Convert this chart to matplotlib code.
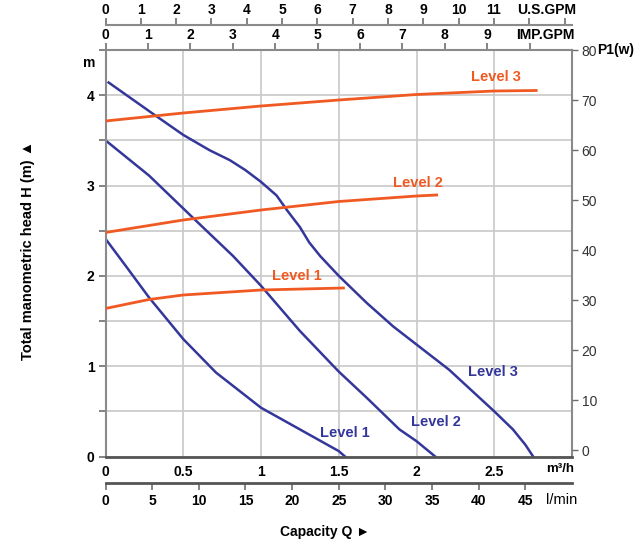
import numpy as np
import matplotlib.pyplot as plt
from matplotlib.ticker import MultipleLocator

plt.rcParams['font.family'] = ['Liberation Sans', 'DejaVu Sans']

BLUE = '#34379a'
ORANGE = '#f05a22'
GRID = '#c8c8c8'
SPINE = '#6e6e6e'

# pump curves: capacity (m3/h) -> head (m)
q_lvl1 = [0.0, 0.13, 0.28, 0.50, 0.71, 1.00, 1.25, 1.50, 1.54]
h_lvl1 = [2.41, 2.11, 1.76, 1.30, 0.93, 0.54, 0.30, 0.06, 0.0]
q_lvl2 = [0.0, 0.28, 0.57, 0.82, 1.00, 1.25, 1.50, 1.68, 1.89, 2.00, 2.12]
h_lvl2 = [3.50, 3.11, 2.63, 2.22, 1.89, 1.39, 0.94, 0.65, 0.30, 0.17, 0.0]
q_lvl3 = [0.02, 0.30, 0.50, 0.67, 0.80, 0.90, 1.00, 1.10, 1.17, 1.25, 1.31, 1.38,
          1.50, 1.68, 1.85, 2.00, 2.21, 2.50, 2.62, 2.70, 2.75]
h_lvl3 = [4.14, 3.80, 3.56, 3.39, 3.28, 3.17, 3.04, 2.89, 2.72, 2.54, 2.37, 2.22,
          2.00, 1.70, 1.44, 1.24, 0.96, 0.50, 0.30, 0.13, 0.0]

# power curves: capacity (m3/h) -> P1 (W)
qp_lvl1 = [0.0, 0.28, 0.50, 1.00, 1.53]
p_lvl1 = [28.3, 30.1, 31.0, 32.0, 32.4]
qp_lvl2 = [0.0, 0.50, 1.00, 1.50, 2.00, 2.13]
p_lvl2 = [43.5, 46.0, 48.0, 49.7, 50.8, 51.0]
qp_lvl3 = [0.0, 0.50, 1.00, 1.50, 2.00, 2.50, 2.77]
p_lvl3 = [65.8, 67.4, 68.8, 70.0, 71.1, 71.8, 71.9]

m3h_ticks = [0, 0.5, 1, 1.5, 2, 2.5]
m3h_labels = ['0', '0.5', '1', '1.5', '2', '2.5']
lmin_ticks = list(range(0, 50, 5))
usgpm_ticks = list(range(0, 14))
impgpm_ticks = list(range(0, 12))
watt_ticks = list(range(0, 90, 10))

W, H = 642, 550
fig = plt.figure(figsize=(W / 100, H / 100), dpi=100)
L, R, T, B = 105.5, 572, 50, 456.5
ax = fig.add_axes([L / W, 1 - B / H, (R - L) / W, (B - T) / H])

ax.set_xlim(0, 3)
ax.set_ylim(0, 4.5)
ax.set_xticks(m3h_ticks)
ax.set_xticklabels(m3h_labels, fontsize=10, fontweight='bold')
ax.tick_params(axis='x', length=0, pad=6)
ax.yaxis.set_major_locator(MultipleLocator(1))
ax.yaxis.set_minor_locator(MultipleLocator(0.5))
ax.tick_params(axis='y', which='both', length=5, width=1.2, color=SPINE, labelsize=10, pad=3)
for lab in ax.get_yticklabels():
    lab.set_fontweight('bold')
ax.grid(True, which='both', color=GRID, lw=1.2)
ax.set_axisbelow(True)
for s in ['left', 'right', 'top']:
    ax.spines[s].set_color('#8a8a8a')
    ax.spines[s].set_linewidth(1.5)
ax.spines['bottom'].set_color('#555555')
ax.spines['bottom'].set_linewidth(2)

ax.plot(q_lvl1, h_lvl1, color=BLUE, lw=1.8, solid_joinstyle='round')
ax.plot(q_lvl2, h_lvl2, color=BLUE, lw=1.8, solid_joinstyle='round')
ax.plot(q_lvl3, h_lvl3, color=BLUE, lw=1.8, solid_joinstyle='round')

ax2 = ax.twinx()
ax2.set_ylim(-1.3, 80)
ax2.set_yticks(watt_ticks)
ax2.tick_params(axis='y', length=4, width=1, color=SPINE, labelsize=10, labelcolor='#333333', pad=3)
for s in ax2.spines.values():
    s.set_visible(False)
ax2.plot(qp_lvl1, p_lvl1, color=ORANGE, lw=2, solid_joinstyle='round')
ax2.plot(qp_lvl2, p_lvl2, color=ORANGE, lw=2, solid_joinstyle='round')
ax2.plot(qp_lvl3, p_lvl3, color=ORANGE, lw=2, solid_joinstyle='round')

# IMP.GPM axis on top of plot
imp = ax.secondary_xaxis('top', functions=(lambda q: q / 0.27277, lambda g: g * 0.27277))
imp.set_xticks(impgpm_ticks)
imp.set_xticklabels([str(i) for i in range(10)] + ['', ''], fontsize=10, fontweight='bold')
imp.tick_params(length=5, width=1.2, color=SPINE, pad=1)
imp.spines['top'].set_visible(False)

# U.S.GPM axis
us = fig.add_axes([L / W, 1 - 25 / H, (R - L) / W, 0.0001])
us.set_xlim(0, 3 / 0.22712)
us.set_yticks([])
for s in ['left', 'right', 'bottom']:
    us.spines[s].set_visible(False)
us.spines['top'].set_color('#8a8a8a')
us.spines['top'].set_linewidth(1.5)
us.xaxis.tick_top()
us.set_xticks(usgpm_ticks)
us.set_xticklabels([str(i) for i in range(12)] + ['', ''], fontsize=10, fontweight='bold')
us.tick_params(length=5, width=1.2, color=SPINE, pad=1)
us.patch.set_visible(False)

# l/min axis
lm = fig.add_axes([L / W, 1 - 483 / H, (R - L) / W, 0.0001])
lm.set_xlim(0, 50)
lm.set_yticks([])
for s in ['left', 'right', 'top']:
    lm.spines[s].set_visible(False)
lm.spines['bottom'].set_color('#555555')
lm.spines['bottom'].set_linewidth(2)
lm.set_xticks(lmin_ticks)
lm.set_xticklabels([str(v) for v in lmin_ticks], fontsize=10, fontweight='bold')
lm.tick_params(length=5, width=1.2, color=SPINE, pad=3)
lm.patch.set_visible(False)

def ftext(x, y, s, **kw):
    fig.text(x / W, 1 - y / H, s, **kw)

bold = dict(fontweight='bold', va='center')
ftext(547, 10, 'U.S.GPM', ha='center', fontsize=10, **bold)
ftext(545, 35, 'IMP.GPM', ha='center', fontsize=10, **bold)
ftext(597, 50, 'P1(w)', ha='left', fontsize=10, **bold)
ftext(89, 63, 'm', ha='center', fontsize=10, **bold)
ftext(560, 469, 'm³/h', ha='center', fontsize=9.5, **bold)
ftext(562, 500, 'l/min', ha='center', fontsize=10.5, va='center')
ftext(325, 532, 'Capacity Q ►', ha='center', fontsize=10, **bold)
ftext(28, 250, 'Total manometric head H (m) ▲', ha='center', rotation=90,
      fontsize=10.5, **bold)

# curve labels
lbl = dict(fontsize=10.5, fontweight='bold', ha='center', va='center')
ftext(496, 77, 'Level 3', color=ORANGE, **lbl)
ftext(418, 183, 'Level 2', color=ORANGE, **lbl)
ftext(297, 276, 'Level 1', color=ORANGE, **lbl)
ftext(493, 372, 'Level 3', color=BLUE, **lbl)
ftext(436, 422, 'Level 2', color=BLUE, **lbl)
ftext(345, 433, 'Level 1', color=BLUE, **lbl)

fig.savefig('out.png', dpi=100)
